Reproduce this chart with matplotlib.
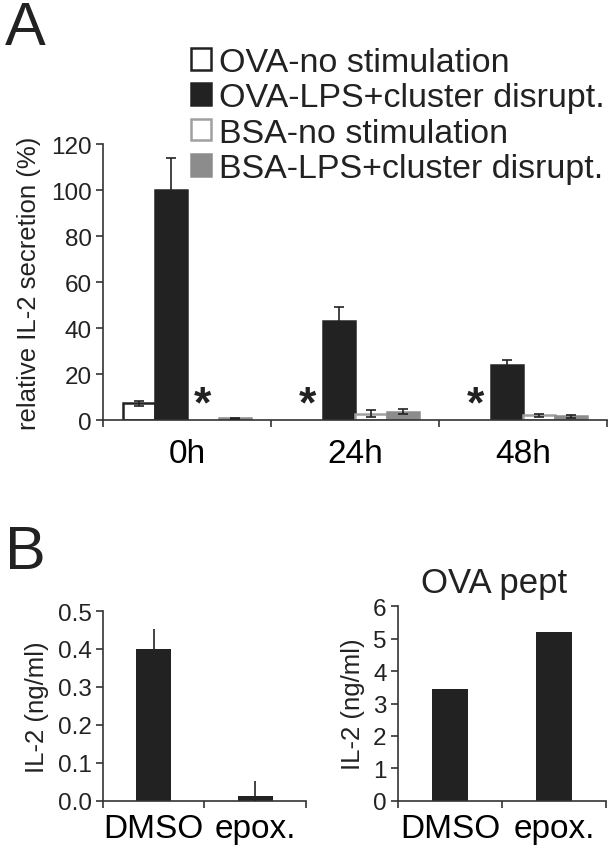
import numpy as np
import matplotlib
matplotlib.use('Agg')
import matplotlib.pyplot as plt
from matplotlib.patches import Patch

plt.rcParams['font.family'] = ['Liberation Sans', 'DejaVu Sans']

# Panel A data
time_points = ['0h', '24h', '48h']
series_names = ['OVA-no stimulation', 'OVA-LPS+cluster disrupt.',
                'BSA-no stimulation', 'BSA-LPS+cluster disrupt.']
ova_no = [7.2, np.nan, np.nan]
ova_no_err = [1.2, 0, 0]
ova_lps = [100.0, 43.0, 24.0]
ova_lps_err = [14.0, 6.0, 2.3]
bsa_no = [np.nan, 2.8, 2.0]
bsa_no_err = [0, 1.4, 0.5]
bsa_lps = [0.8, 3.6, 1.6]
bsa_lps_err = [0.2, 1.1, 0.6]

# Panel B data
treatments = ['DMSO', 'epox.']
il2_left = [0.40, 0.012]
il2_left_err = [0.053, 0.04]
il2_right = [3.45, 5.2]

DARK = '#222222'
GRAY = '#8c8c8c'
LIGHT_EDGE = '#a0a0a0'
AXIS = '#333333'


def _style_ax(ax):
    ax.spines[['top', 'right']].set_visible(False)
    for s in ('left', 'bottom'):
        ax.spines[s].set_color(AXIS)
        ax.spines[s].set_linewidth(1.2)
    ax.tick_params(axis='both', colors=AXIS, labelcolor=DARK,
                   width=1.2, length=5)
    ax.tick_params(axis='y', labelsize=17.5, pad=3)


fig = plt.figure(figsize=(6.12, 8.53), dpi=100)

# ---- Panel A ----
axA = fig.add_axes([0.168, 0.5064, 0.824, 0.3236])
x = np.arange(len(time_points))
w = 0.19
offsets = [-1.5 * w, -0.5 * w, 0.5 * w, 1.5 * w]
vals = [ova_no, ova_lps, bsa_no, bsa_lps]
errs = [ova_no_err, ova_lps_err, bsa_no_err, bsa_lps_err]
faces = ['white', DARK, 'white', GRAY]
edges = [DARK, DARK, LIGHT_EDGE, GRAY]

for v, e, off, fc, ec in zip(vals, errs, offsets, faces, edges):
    v = np.array(v, dtype=float)
    ax_x = x + off
    ok = ~np.isnan(v)
    axA.bar(ax_x[ok], v[ok], width=w, color=fc, edgecolor=ec, linewidth=1.8,
            zorder=2)
    axA.errorbar(ax_x[ok], v[ok], yerr=np.array(e)[ok], fmt='none',
                 ecolor=DARK, elinewidth=1.2, capsize=3.5, capthick=1.2,
                 zorder=3)
    # asterisk where no value was measured
    for xi in ax_x[~ok]:
        axA.text(xi, -2.5, '*', ha='center', va='bottom', fontsize=32,
                 fontweight='bold', color=DARK)

axA.set_xlim(-0.5, 2.5)
axA.set_ylim(0, 120)
axA.set_yticks(np.arange(0, 121, 20))
axA.set_xticks([-0.5, 0.5, 1.5, 2.5])
axA.set_xticklabels([])
axA.set_xticks(x, minor=True)
axA.set_xticklabels(time_points, minor=True, fontsize=24)
_style_ax(axA)
axA.tick_params(axis='x', which='minor', length=0, pad=13)
axA.set_ylabel('relative IL-2 secretion (%)', fontsize=18.5, color=DARK,
               labelpad=7)

handles = [Patch(facecolor=fc, edgecolor=ec, linewidth=1.8)
           for fc, ec in zip(faces, edges)]
fig.legend(handles, series_names, loc='upper left',
           bbox_to_anchor=(0.312, 0.944), frameon=False, fontsize=24.5,
           handlelength=0.6, handleheight=0.6, handletextpad=0.22,
           labelspacing=0.13, borderpad=0, borderaxespad=0, labelcolor=DARK)

fig.text(0.008, 0.999, 'A', fontsize=44, va='top', ha='left', color=DARK)
fig.text(0.008, 0.385, 'B', fontsize=44, va='top', ha='left', color=DARK)

# ---- Panel B left ----
axL = fig.add_axes([0.168, 0.060, 0.332, 0.2225])
xb = np.arange(len(treatments))
axL.bar(xb, il2_left, width=0.345, color=DARK, zorder=2)
axL.errorbar(xb, il2_left, yerr=il2_left_err, fmt='none', ecolor=DARK,
             elinewidth=1.2, capsize=0, zorder=3)
axL.set_xlim(-0.5, 1.5)
axL.set_ylim(0, 0.5)
axL.set_yticks(np.arange(0, 0.51, 0.1))
axL.set_yticklabels([f'{t:.1f}' for t in np.arange(0, 0.51, 0.1)])
axL.set_xticks([-0.5, 0.5, 1.5])
axL.set_xticklabels([])
axL.set_xticks(xb, minor=True)
axL.set_xticklabels(treatments, minor=True, fontsize=24)
_style_ax(axL)
axL.tick_params(axis='x', which='minor', length=0, pad=9)
axL.set_ylabel('IL-2 (ng/ml)', fontsize=18.5, color=DARK, labelpad=6)

# ---- Panel B right ----
axR = fig.add_axes([0.650, 0.060, 0.341, 0.228])
axR.bar(xb, il2_right, width=0.345, color=DARK, zorder=2)
axR.set_xlim(-0.5, 1.5)
axR.set_ylim(0, 6)
axR.set_yticks(np.arange(0, 7, 1))
axR.set_xticks([-0.5, 0.5, 1.5])
axR.set_xticklabels([])
axR.set_xticks(xb, minor=True)
axR.set_xticklabels(treatments, minor=True, fontsize=24)
_style_ax(axR)
axR.tick_params(axis='x', which='minor', length=0, pad=9)
axR.set_ylabel('IL-2 (ng/ml)', fontsize=18.5, color=DARK, labelpad=6)
axR.set_title('OVA pept', fontsize=25, color=DARK, pad=10, x=0.46)

fig.savefig('out.png', dpi=100)
